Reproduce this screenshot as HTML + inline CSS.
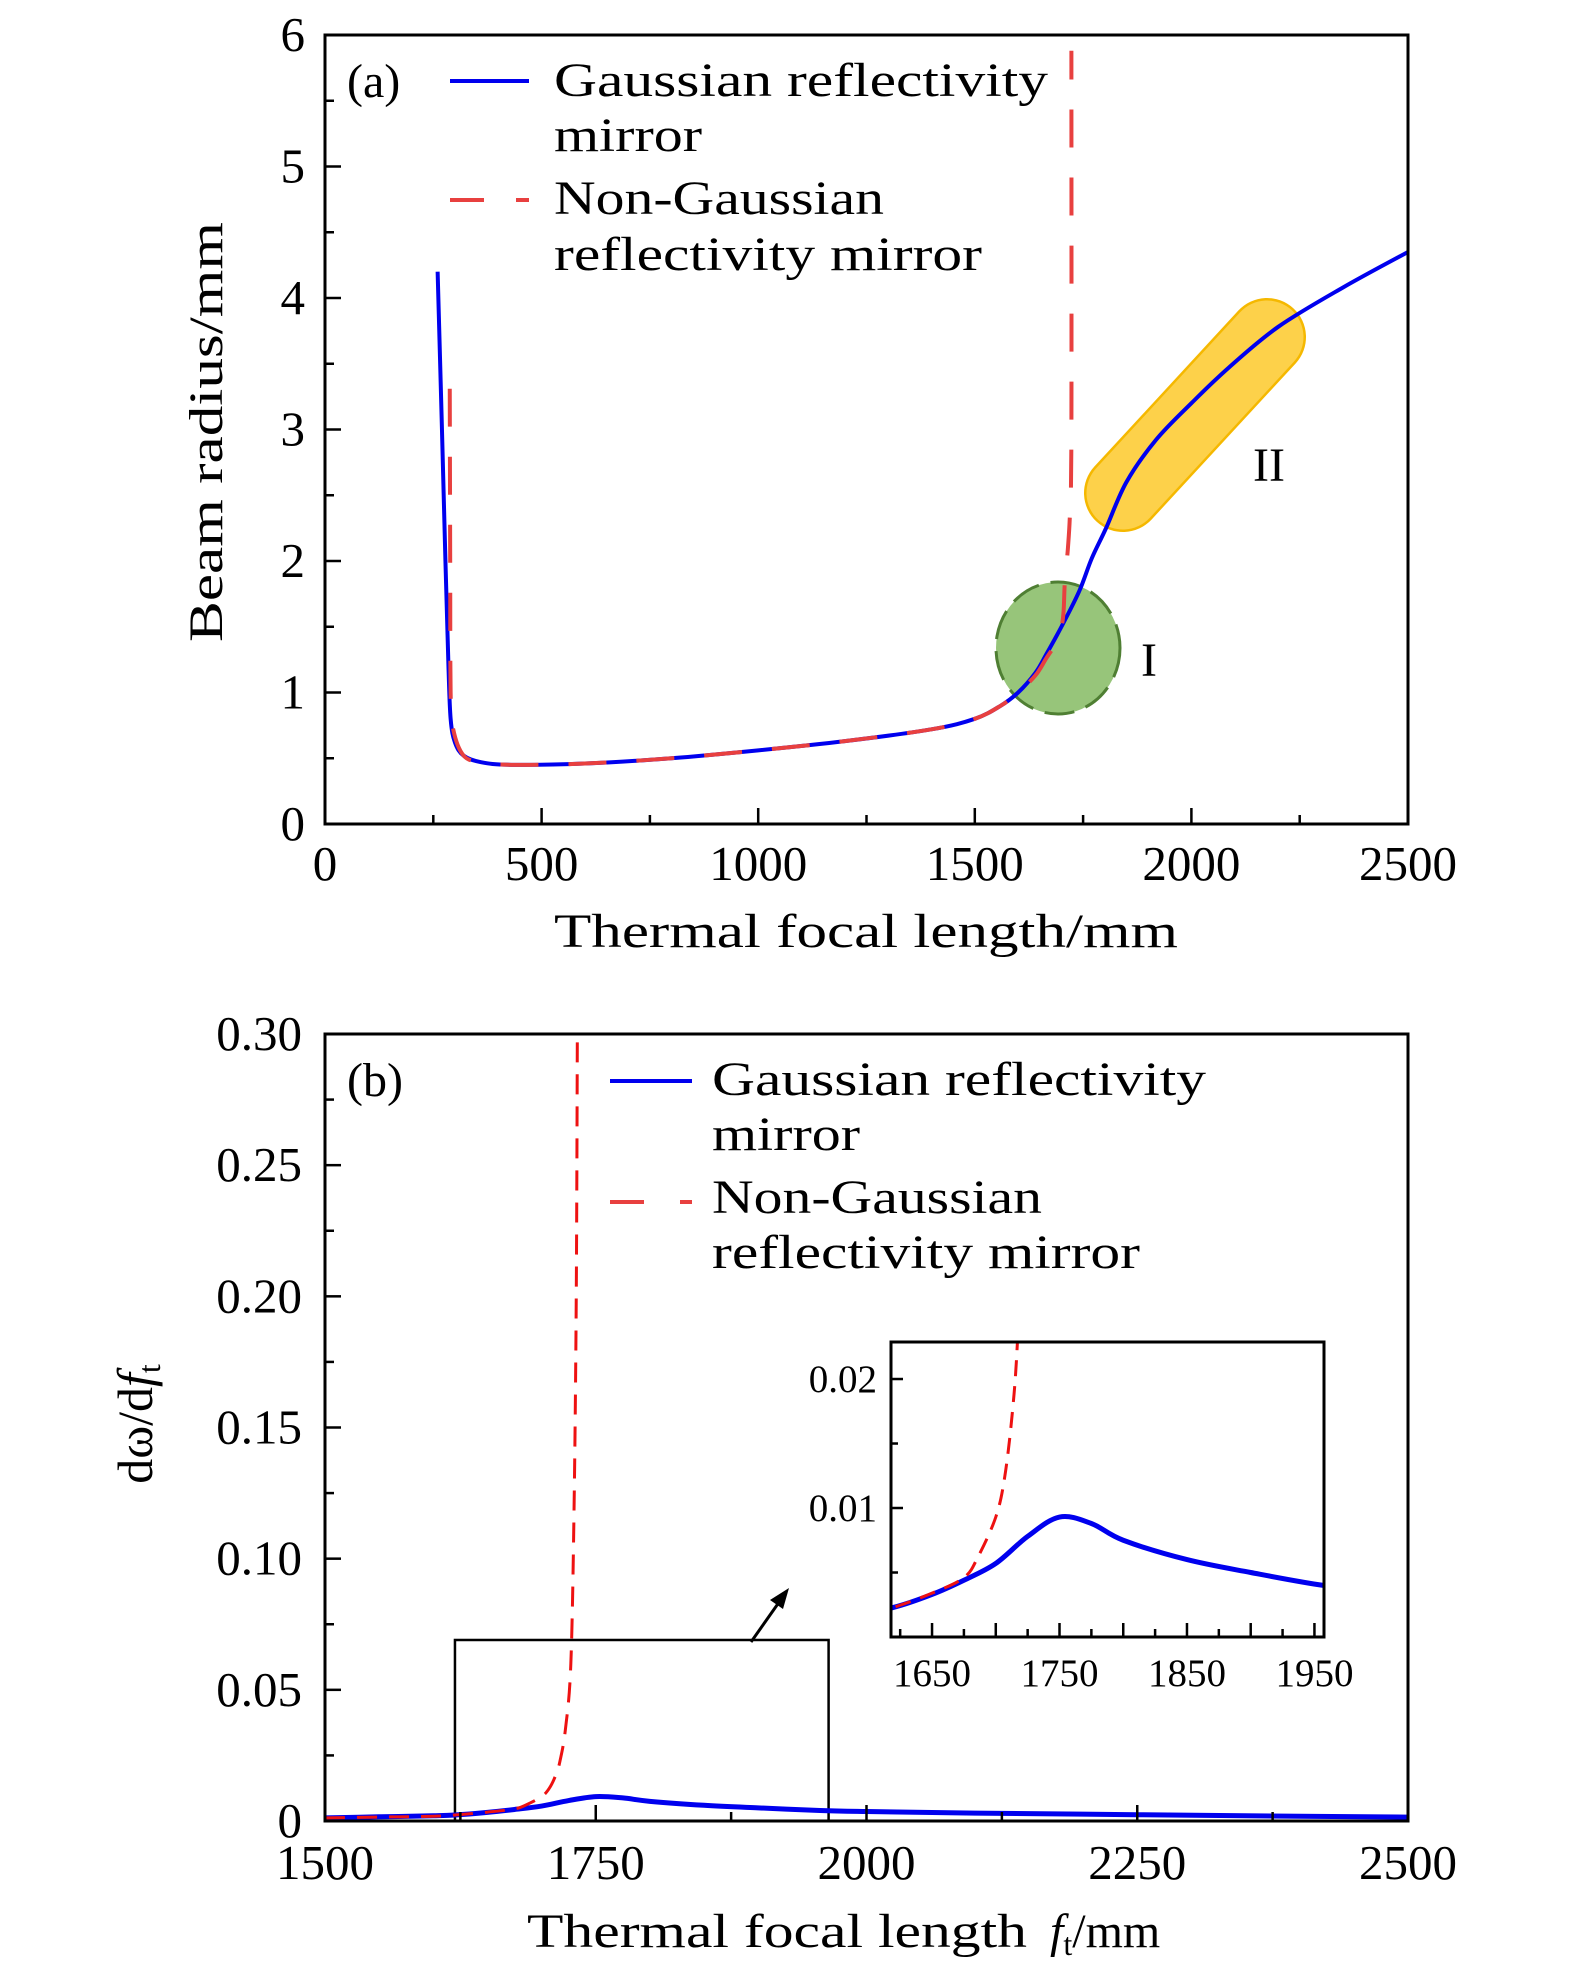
<!DOCTYPE html>
<html><head><meta charset="utf-8">
<style>
html,body{margin:0;padding:0;background:#fff;}
svg{display:block;}
text{font-family:"Liberation Serif","DejaVu Serif",serif;fill:#000;}
</style></head>
<body>
<svg id="fig" width="1575" height="1978" viewBox="0 0 1575 1978" xmlns="http://www.w3.org/2000/svg">
<g id="gA"></g>
<g id="gB"></g>
</svg>
<script>
// ---- Panel (a) data ----
const aGaussX = [260,270,278,285,290,300,320,360,430,600,800,1000,1200,1400,1500,1560,1600,1640,1665,1700,1741,1770,1803,1850,1918,2000,2086,2200,2350,2500];
const aGaussY = [4.2,3.0,2.0,1.2,0.8,0.62,0.52,0.47,0.45,0.46,0.5,0.56,0.63,0.72,0.8,0.9,1.0,1.15,1.29,1.5,1.77,2.02,2.25,2.6,2.92,3.2,3.47,3.78,4.08,4.35];
const aNonX = [288,289,290,296,320,360,430,600,800,1000,1200,1400,1500,1560,1600,1640,1665,1688,1700,1705,1708,1715,1720,1723,1723];
const aNonY = [3.31,2.0,1.0,0.72,0.52,0.47,0.45,0.46,0.5,0.56,0.63,0.72,0.8,0.9,1.0,1.13,1.26,1.38,1.5,1.62,1.85,2.1,2.4,3.0,5.88];
const aXTicks = [0,500,1000,1500,2000,2500];
const aYTicks = [0,1,2,3,4,5,6];
// ---- Panel (b) data ----
const bGaussX = [1500,1550,1600,1620,1650,1675,1700,1725,1750,1775,1800,1850,1900,1957,2000,2100,2250,2400,2500];
const bGaussY = [0.0012,0.0016,0.002,0.0023,0.0033,0.0044,0.0057,0.0078,0.0093,0.0088,0.0075,0.006,0.005,0.004,0.0036,0.003,0.0024,0.0018,0.0015];
const bNonX = [1500,1550,1600,1620,1650,1675,1686,1700,1707,1713,1717,1722,1727,1730,1732,1733];
const bNonY = [0.0012,0.0015,0.0018,0.0023,0.0034,0.0046,0.0062,0.0093,0.0124,0.0174,0.0229,0.035,0.06,0.12,0.2,0.3];
const bXTicks = [1500,1750,2000,2250,2500];
const bYTicks = [0,0.05,0.10,0.15,0.20,0.25,0.30];
const bYLabels = ["0","0.05","0.10","0.15","0.20","0.25","0.30"];
const inXTicks = [1650,1750,1850,1950];
const inYTicks = [0.01,0.02];
const inYLabels = ["0.01","0.02"];

const NS="http://www.w3.org/2000/svg";
function mk(parent,tag,attrs,txt){const e=document.createElementNS(NS,tag);for(const k in attrs)e.setAttribute(k,attrs[k]);if(txt!==undefined)e.textContent=txt;parent.appendChild(e);return e;}
function scale(d0,d1,p0,p1){return v=>p0+(v-d0)/(d1-d0)*(p1-p0);}
function pathD(xs,ys,sx,sy){
  const P=xs.map((x,i)=>[sx(x),sy(ys[i])]);
  let d='M'+P[0][0].toFixed(2)+','+P[0][1].toFixed(2);
  for(let i=0;i<P.length-1;i++){
    const p0=P[Math.max(0,i-1)],p1=P[i],p2=P[i+1],p3=P[Math.min(P.length-1,i+2)];
    const c1=[p1[0]+(p2[0]-p0[0])/6,p1[1]+(p2[1]-p0[1])/6];
    const c2=[p2[0]-(p3[0]-p1[0])/6,p2[1]-(p3[1]-p1[1])/6];
    d+=' C'+c1[0].toFixed(2)+','+c1[1].toFixed(2)+' '+c2[0].toFixed(2)+','+c2[1].toFixed(2)+' '+p2[0].toFixed(2)+','+p2[1].toFixed(2);
  }
  return d;
}

// ===== Panel A =====
const gA=document.getElementById('gA');
const axL=325,axR=1408,aT=35,aB=824;
const ax=scale(0,2500,axL,axR), ay=scale(0,6,aB,aT);
const pill=mk(gA,'line',{x1:1123,y1:493,x2:1267,y2:337,stroke:'#f5b800','stroke-width':78,'stroke-linecap':'round'});


const pill2=mk(gA,'line',{x1:1123,y1:493,x2:1267,y2:337,stroke:'#fdd14a','stroke-width':73,'stroke-linecap':'round'});


const circ=mk(gA,'ellipse',{cx:1058,cy:648,rx:62,ry:66,fill:'#97c57a',stroke:'#4f7f33','stroke-width':3,'stroke-dasharray':'30 12'});


const aBlue=mk(gA,'path',{d:pathD(aGaussX,aGaussY,ax,ay),fill:'none',stroke:'#0000ee','stroke-width':4,'stroke-linejoin':'round'});


const aRed=mk(gA,'path',{d:pathD(aNonX,aNonY,ax,ay),fill:'none',stroke:'#e8403f','stroke-width':4,'stroke-dasharray':'38 30'});


const aBox=mk(gA,'rect',{x:axL,y:aT,width:axR-axL,height:aB-aT,fill:'none',stroke:'#000','stroke-width':3});


for(let v=0;v<=2500;v+=250){const maj=v%500===0;mk(gA,'line',{x1:ax(v),x2:ax(v),y1:aB,y2:aB-(maj?16:9),stroke:'#000','stroke-width':2.5});}
for(let v=0;v<=6;v+=0.5){const maj=v%1===0;mk(gA,'line',{x1:axL,x2:axL+(maj?16:9),y1:ay(v),y2:ay(v),stroke:'#000','stroke-width':2.5});}
aXTicks.forEach(v=>{const t=mk(gA,'text',{x:ax(v),y:880,'font-size':49,'text-anchor':'middle'},String(v));

});
aYTicks.forEach(v=>{const t=mk(gA,'text',{x:305,y:ay(v)+16,'font-size':49,'text-anchor':'end'},String(v));

});
</script>
<script>
// ===== Panel B =====
const gB=document.getElementById('gB');
const bT=1034,bB=1821;
const bx=scale(1500,2500,axL,axR), by=scale(0,0.3,bB,bT);
const zr=mk(gB,'rect',{x:bx(1620),y:by(0.069),width:bx(1965)-bx(1620),height:bB-by(0.069),fill:'none',stroke:'#000','stroke-width':2.5});


const bBlue=mk(gB,'path',{d:pathD(bGaussX,bGaussY,bx,by),fill:'none',stroke:'#0000ee','stroke-width':5});


const bRed=mk(gB,'path',{d:pathD(bNonX,bNonY,bx,by),fill:'none',stroke:'#ee1111','stroke-width':3,'stroke-dasharray':'20 12'});


const bBox=mk(gB,'rect',{x:axL,y:bT,width:axR-axL,height:bB-bT,fill:'none',stroke:'#000','stroke-width':3});


for(let v=1500;v<=2500;v+=125){const maj=(v-1500)%250===0;mk(gB,'line',{x1:bx(v),x2:bx(v),y1:bB,y2:bB-(maj?16:9),stroke:'#000','stroke-width':2.5});}
for(let i=0;i<=12;i++){const v=i*0.025;const maj=i%2===0;mk(gB,'line',{x1:axL,x2:axL+(maj?16:9),y1:by(v),y2:by(v),stroke:'#000','stroke-width':2.5});}
bXTicks.forEach(v=>{const t=mk(gB,'text',{x:bx(v),y:1879,'font-size':49,'text-anchor':'middle'},String(v));

});
bYTicks.forEach((v,i)=>{const t=mk(gB,'text',{x:302,y:by(v)+16,'font-size':49,'text-anchor':'end'},bYLabels[i]);

});
const arr=mk(gB,'line',{x1:751,y1:1642,x2:782,y2:1598,stroke:'#000','stroke-width':3});


const arh=mk(gB,'polygon',{points:'789,1588 770,1600 783,1609',fill:'#000'});


const iL=891,iR=1324,iT=1342,iB=1637;
const ix=scale(1617.8,1957.5,iL,iR), iy=scale(0,0.02287,iB,iT);
const ibg=mk(gB,'rect',{x:iL,y:iT,width:iR-iL,height:iB-iT,fill:'#fff'});


mk(gB,'clipPath',{id:'ic'});
mk(document.getElementById('ic'),'rect',{x:iL,y:iT,width:iR-iL,height:iB-iT});
const iBlue=mk(gB,'path',{d:pathD(bGaussX,bGaussY,ix,iy),fill:'none',stroke:'#0000ee','stroke-width':5,'clip-path':'url(#ic)'});


const iRed=mk(gB,'path',{d:pathD(bNonX,bNonY,ix,iy),fill:'none',stroke:'#ee1111','stroke-width':3,'stroke-dasharray':'16 10','clip-path':'url(#ic)'});


const iBox=mk(gB,'rect',{x:iL,y:iT,width:iR-iL,height:iB-iT,fill:'none',stroke:'#000','stroke-width':3});


for(let v=1625;v<=1950;v+=25){const maj=(v-1650)%50===0;mk(gB,'line',{x1:ix(v),x2:ix(v),y1:iB,y2:iB-(maj?14:8),stroke:'#000','stroke-width':2.5});}
for(let k=1;k<=4;k++){const v=k*0.005;const maj=k%2===0;mk(gB,'line',{x1:iL,x2:iL+(maj?12:7),y1:iy(v),y2:iy(v),stroke:'#000','stroke-width':2.5});}
inXTicks.forEach(v=>{const t=mk(gB,'text',{x:ix(v),y:1686,'font-size':39,'text-anchor':'middle'},String(v));

});
inYTicks.forEach((v,i)=>{const t=mk(gB,'text',{x:877,y:iy(v)+13,'font-size':39,'text-anchor':'end'},inYLabels[i]);

});
</script>

<svg width="1575" height="1978" viewBox="0 0 1575 1978" style="position:absolute;left:0;top:0" xmlns="http://www.w3.org/2000/svg">
<style>text{font-family:"Liberation Serif","DejaVu Serif",serif;fill:#000;}</style>
<text x="347" y="97" font-size="48">(a)</text>
<line x1="450" y1="81" x2="529" y2="81" stroke="#0000ee" stroke-width="4"/>
<line x1="450" y1="200" x2="529" y2="200" stroke="#e8403f" stroke-width="4" stroke-dasharray="34 32"/>
<text x="554" y="96" font-size="48" textLength="494" lengthAdjust="spacingAndGlyphs">Gaussian reflectivity</text>
<text x="554" y="151" font-size="48" textLength="148" lengthAdjust="spacingAndGlyphs">mirror</text>
<text x="554" y="214" font-size="48" textLength="330" lengthAdjust="spacingAndGlyphs">Non-Gaussian</text>
<text x="554" y="270" font-size="48" textLength="428" lengthAdjust="spacingAndGlyphs">reflectivity mirror</text>
<text x="1253" y="481" font-size="48">II</text>
<text x="1141" y="676" font-size="48">I</text>
<text x="866" y="947" font-size="48" text-anchor="middle" textLength="624" lengthAdjust="spacingAndGlyphs">Thermal focal length/mm</text>
<text transform="translate(222,432) rotate(-90)" font-size="48" text-anchor="middle" textLength="420" lengthAdjust="spacingAndGlyphs">Beam radius/mm</text>

<text x="347" y="1096" font-size="48">(b)</text>
<line x1="610" y1="1081" x2="692" y2="1081" stroke="#0000ee" stroke-width="4"/>
<line x1="610" y1="1202" x2="692" y2="1202" stroke="#e8403f" stroke-width="4" stroke-dasharray="34 36"/>
<text x="712" y="1095" font-size="48" textLength="494" lengthAdjust="spacingAndGlyphs">Gaussian reflectivity</text>
<text x="712" y="1150" font-size="48" textLength="148" lengthAdjust="spacingAndGlyphs">mirror</text>
<text x="712" y="1213" font-size="48" textLength="330" lengthAdjust="spacingAndGlyphs">Non-Gaussian</text>
<text x="712" y="1268" font-size="48" textLength="428" lengthAdjust="spacingAndGlyphs">reflectivity mirror</text>
<text x="527" y="1947" font-size="48" textLength="500" lengthAdjust="spacingAndGlyphs">Thermal focal length</text>
<text x="1050" y="1947" font-size="48"><tspan font-style="italic">f</tspan><tspan font-size="32" dy="8">t</tspan><tspan dy="-8">/mm</tspan></text>
<text transform="translate(152,1424) rotate(-90)" font-size="50" text-anchor="middle">dω/d<tspan font-style="italic">f</tspan><tspan font-size="32" dy="8">t</tspan></text>
</svg>
</body></html>
